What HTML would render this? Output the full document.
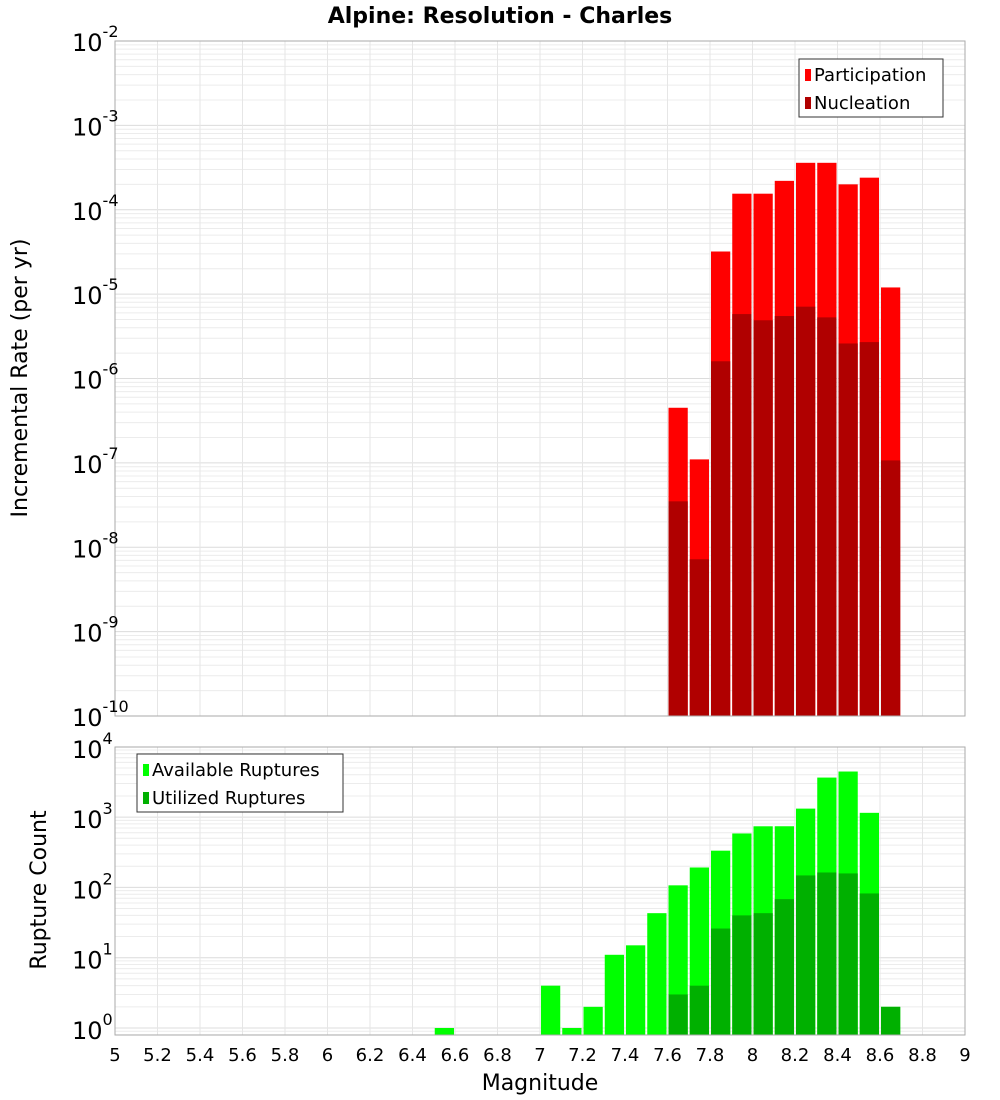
<!DOCTYPE html>
<html><head><meta charset="utf-8"><style>
body{margin:0;background:#fff;}
svg{display:block;font-family:"DejaVu Sans","Liberation Sans",sans-serif;}
</style></head><body>
<svg id="c" width="1000" height="1100">
<text x="500" y="23" text-anchor="middle" font-size="22" font-weight="bold">Alpine: Resolution - Charles</text>
<text transform="translate(27,378) rotate(-90)" text-anchor="middle" font-size="22">Incremental Rate (per yr)</text>
<text transform="translate(46,890) rotate(-90)" text-anchor="middle" font-size="22">Rupture Count</text>
<text x="540" y="1090" text-anchor="middle" font-size="22">Magnitude</text>
</svg>
<script>
const bins=[7.65,7.75,7.85,7.95,8.05,8.15,8.25,8.35,8.45,8.55,8.65];
const participation=[4.5e-7,1.1e-7,3.2e-5,1.55e-4,1.55e-4,2.2e-4,3.6e-4,3.6e-4,2.0e-4,2.4e-4,1.2e-5];
const nucleation=[3.5e-8,7.2e-9,1.6e-6,5.8e-6,4.9e-6,5.5e-6,7.1e-6,5.3e-6,2.6e-6,2.7e-6,1.07e-7];
const countBins=[6.55,7.05,7.15,7.25,7.35,7.45,7.55,7.65,7.75,7.85,7.95,8.05,8.15,8.25,8.35,8.45,8.55,8.65];
const available=[1,4,1,2,11,15,43,107,192,333,585,740,741,1320,3650,4450,1150,2];
const utilized=[0,0,0,0,0,0,0,3,4,26,40,43,68,148,163,158,82,2];
const xTicks=[5,5.2,5.4,5.6,5.8,6,6.2,6.4,6.6,6.8,7,7.2,7.4,7.6,7.8,8,8.2,8.4,8.6,8.8,9];
const topExp=[-2,-3,-4,-5,-6,-7,-8,-9,-10];
const botExp=[4,3,2,1,0];

const svg=document.getElementById('c');const NS='http://www.w3.org/2000/svg';
function mk(t,a,p){const e=document.createElementNS(NS,t);for(const k in a)e.setAttribute(k,a[k]);(p||svg).appendChild(e);return e;}
const X0=115,X1=965;
const x=m=>X0+(m-5)/4*(X1-X0);
const T={top:41,bot:716,lmax:-2,lmin:-10};
const B={top:747,bot:1035,l0y:1028,d:70.3};
const yT=v=>T.top+(T.lmax-Math.log10(v))*(T.bot-T.top)/(T.lmax-T.lmin);
const yB=v=>Math.min(B.bot,B.l0y-Math.log10(v)*B.d);

function grid(top,bot,yf,lo,hi,nm){
  const g=mk('g',{});
  
  
  for(let e=lo;e<hi;e++)for(let k=1;k<10;k++){const y=yf(k*Math.pow(10,e));if(y<top-0.5||y>bot+0.5)continue;
    mk('line',{x1:X0,x2:X1,y1:y,y2:y,stroke:k==1?'#dcdcdc':'#ececec','stroke-width':1},g);}
  xTicks.forEach(t=>mk('line',{x1:x(t),x2:x(t),y1:top,y2:bot,stroke:'#e6e6e6'},g));
}
grid(T.top,T.bot,yT,-10,-2,'top-grid');
grid(B.top,B.bot,yB,-1,4,'bottom-grid');
mk('line',{x1:X0,x2:X1,y1:yT(1e-2),y2:yT(1e-2),stroke:'#dcdcdc'});

function bar(m,y,bot,col,nm){const w=x(m+0.05)-x(m-0.05);
  const r=mk('rect',{x:x(m-0.05)+1,y:y,width:w-2,height:Math.max(0,bot-y),fill:col});
  
  }
bins.forEach((m,i)=>bar(m,yT(participation[i]),T.bot,'#ff0000','participation-bar'));
bins.forEach((m,i)=>bar(m,yT(nucleation[i]),T.bot,'#b00000','nucleation-bar'));
countBins.forEach((m,i)=>bar(m,yB(available[i]),B.bot,'#00ff00','available-bar'));
countBins.forEach((m,i)=>{if(utilized[i]>0)bar(m,yB(utilized[i]),B.bot,'#00b000','utilized-bar');});

mk('rect',{x:X0,y:T.top,width:X1-X0,height:T.bot-T.top,fill:'none',stroke:'#aaa'});
mk('rect',{x:X0,y:B.top,width:X1-X0,height:B.bot-B.top,fill:'none',stroke:'#aaa'});

function ylab(y,e,nm){const t=mk('text',{x:110,y:y+13,'text-anchor':'end','font-size':24});
  
  
  const a=mk('tspan',{},t);a.textContent='10';const b=mk('tspan',{dy:-13,'font-size':16},t);b.textContent=String(e);}
topExp.forEach(e=>{const t=mk('text',{x:72,y:yT(Math.pow(10,e))+10,'font-size':24});
  
  
  const a=mk('tspan',{},t);a.textContent='10';const b=mk('tspan',{dy:-14,'font-size':16},t);b.textContent=String(e);});
botExp.forEach(e=>{const t=mk('text',{x:72,y:yB(Math.pow(10,e))+11,'font-size':24});
  
  
  const a=mk('tspan',{},t);a.textContent='10';const b=mk('tspan',{dy:-14,'font-size':16},t);b.textContent=String(e);});
xTicks.forEach(v=>{const t=mk('text',{x:x(v),y:1061,'text-anchor':'middle','font-size':18});
  
  
  t.textContent=String(v);});

function legend(lx,ly,w,items,nm){const g=mk('g',{});
  
  
  mk('rect',{x:lx,y:ly,width:w,height:58,fill:'#fff',stroke:'#333'},g);
  items.forEach((it,i)=>{mk('rect',{x:lx+6,y:ly+10+i*28,width:6,height:12,fill:it[1]},g);
    const t=mk('text',{x:lx+15,y:ly+22+i*28,'font-size':18},g);t.textContent=it[0];});}
legend(799,59,144,[['Participation','#ff0000'],['Nucleation','#b00000']],'top-legend');
legend(137,754,206,[['Available Ruptures','#00ff00'],['Utilized Ruptures','#00b000']],'bottom-legend');
</script>
</body></html>
